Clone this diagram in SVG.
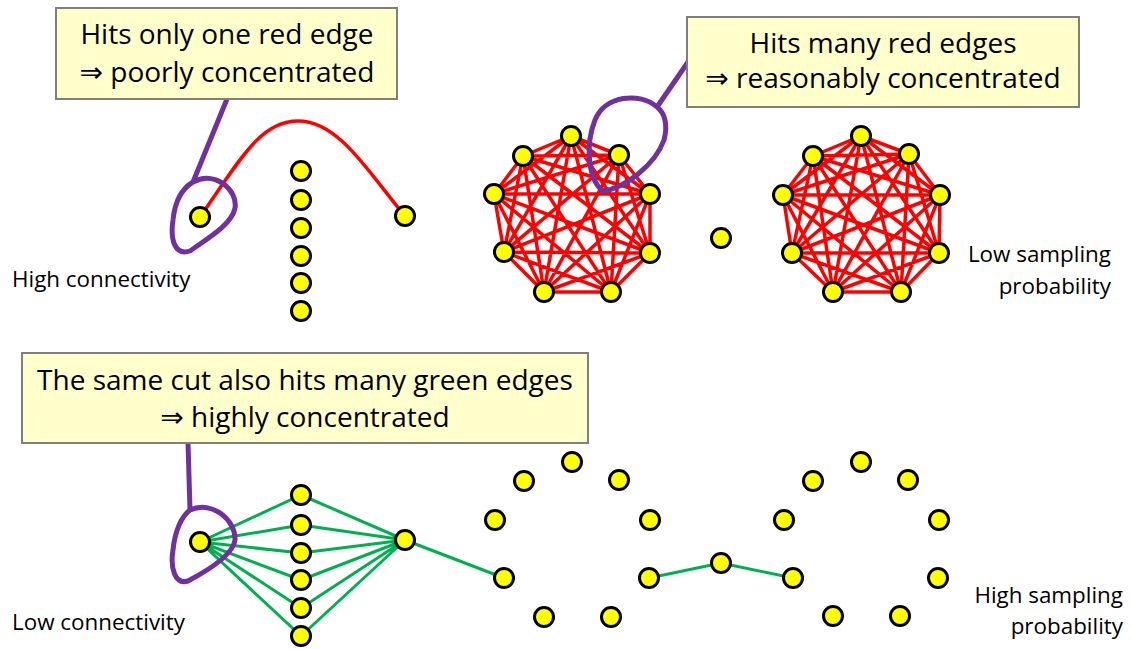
<svg xmlns="http://www.w3.org/2000/svg" width="1131" height="649" viewBox="0 0 1131 649">
<style>
.n{fill:#FFFF00;stroke:#000;stroke-width:3}
.r{stroke:#FF0000;stroke-width:3.5;fill:none}
.g{stroke:#00B050;stroke-width:3;fill:none}
.p{stroke:#7030A0;stroke-width:5;fill:none;stroke-linejoin:round}
.box{fill:#FFFFCC;stroke:#7F7F7F;stroke-width:2}
.t{font-family:"Open Sans",Lato,sans-serif;font-size:28px;fill:#000;text-anchor:middle}
.a{font-family:"DejaVu Sans",sans-serif}
.l{font-family:"Open Sans",Lato,sans-serif;font-size:22.4px;fill:#000}
.lr{font-family:"Open Sans",Lato,sans-serif;font-size:22.4px;fill:#000;text-anchor:end}
</style>
<rect width="1131" height="649" fill="#fff"/>
<g id="connectors">
<path class="r" d="M200,217 C240,160 260,121 298,121 C340,121 370,175 405,216"/>
<g id="clique1-edges">
<path class="r" d="M571,136L619,155M571,136L650,194M571,136L650,253M571,136L611,292M571,136L544,292M571,136L504,252M571,136L494,194M571,136L523,156
M619,155L650,194M619,155L650,253M619,155L611,292M619,155L544,292M619,155L504,252M619,155L494,194M619,155L523,156
M650,194L650,253M650,194L611,292M650,194L544,292M650,194L504,252M650,194L494,194M650,194L523,156
M650,253L611,292M650,253L544,292M650,253L504,252M650,253L494,194M650,253L523,156
M611,292L544,292M611,292L504,252M611,292L494,194M611,292L523,156
M544,292L504,252M544,292L494,194M544,292L523,156
M504,252L494,194M504,252L523,156
M494,194L523,156"/>
</g>
<g id="clique2-edges">
<path class="r" d="M861,136L909,154M861,136L940,195M861,136L939,253M861,136L901,292M861,136L833,292M861,136L792,253M861,136L783,195M861,136L813,156
M909,154L940,195M909,154L939,253M909,154L901,292M909,154L833,292M909,154L792,253M909,154L783,195M909,154L813,156
M940,195L939,253M940,195L901,292M940,195L833,292M940,195L792,253M940,195L783,195M940,195L813,156
M939,253L901,292M939,253L833,292M939,253L792,253M939,253L783,195M939,253L813,156
M901,292L833,292M901,292L792,253M901,292L783,195M901,292L813,156
M833,292L792,253M833,292L783,195M833,292L813,156
M792,253L783,195M792,253L813,156
M783,195L813,156"/>
</g>
<path class="g" d="M200,542L301,495M200,542L301,525M200,542L301,553M200,542L301,580M200,542L301,608M200,542L301,636
M405,540L301,495M405,540L301,525M405,540L301,553M405,540L301,580M405,540L301,608M405,540L301,636
M405,540L504,578M649,578L721,563L793,578"/>
</g>
<g id="cut1">
<path class="p" d="M227,99L193,182 C215,170 238,190 235,208 C232,225 205,240 190,251 C175,256 170,240 173,220 C175,200 183,188 193,182"/>
</g>
<g id="cut2">
<path class="p" d="M688,62L657,107 C640,92 605,95 595,120 C585,145 588,180 603,191 C625,188 655,165 664,140 C668,125 665,113 657,107"/>
</g>
<g id="cut3">
<path class="p" d="M188,443L190,510 C212,500 236,520 235,540 C233,556 205,572 188,581 C175,585 170,568 173,550 C175,530 182,516 190,510"/>
</g>
<g id="callout1">
<rect class="box" x="56" y="8" width="341" height="91"/>
<text class="t" x="227" y="44">Hits only one red edge</text>
<text class="t" x="227" y="82"><tspan class="a">⇒</tspan> poorly concentrated</text>
</g>
<g id="callout2">
<rect class="box" x="687" y="17" width="392" height="90"/>
<text class="t" x="883" y="53">Hits many red edges</text>
<text class="t" x="883" y="88"><tspan class="a">⇒</tspan> reasonably concentrated</text>
</g>
<g id="callout3">
<rect class="box" x="22" y="353" width="566" height="90"/>
<text class="t" x="305" y="390">The same cut also hits many green edges</text>
<text class="t" x="305" y="427"><tspan class="a">⇒</tspan> highly concentrated</text>
</g>
<g id="top-left-nodes">
<circle class="n" cx="200" cy="217" r="9.5"/>
<circle class="n" cx="405" cy="216" r="9.5"/>
<circle class="n" cx="301" cy="171" r="9.5"/>
<circle class="n" cx="301" cy="200" r="9.5"/>
<circle class="n" cx="301" cy="228" r="9.5"/>
<circle class="n" cx="301" cy="256" r="9.5"/>
<circle class="n" cx="301" cy="283" r="9.5"/>
<circle class="n" cx="301" cy="311" r="9.5"/>
</g>
<g id="clique1">
<circle class="n" cx="571" cy="136" r="9.5"/>
<circle class="n" cx="619" cy="155" r="9.5"/>
<circle class="n" cx="650" cy="194" r="9.5"/>
<circle class="n" cx="650" cy="253" r="9.5"/>
<circle class="n" cx="611" cy="292" r="9.5"/>
<circle class="n" cx="544" cy="292" r="9.5"/>
<circle class="n" cx="504" cy="252" r="9.5"/>
<circle class="n" cx="494" cy="194" r="9.5"/>
<circle class="n" cx="523" cy="156" r="9.5"/>
</g>
<g id="isolated-top">
<circle class="n" cx="721" cy="238" r="9.5"/>
</g>
<g id="clique2">
<circle class="n" cx="861" cy="136" r="9.5"/>
<circle class="n" cx="909" cy="154" r="9.5"/>
<circle class="n" cx="940" cy="195" r="9.5"/>
<circle class="n" cx="939" cy="253" r="9.5"/>
<circle class="n" cx="901" cy="292" r="9.5"/>
<circle class="n" cx="833" cy="292" r="9.5"/>
<circle class="n" cx="792" cy="253" r="9.5"/>
<circle class="n" cx="783" cy="195" r="9.5"/>
<circle class="n" cx="813" cy="156" r="9.5"/>
</g>
<g id="bottom-left-nodes">
<circle class="n" cx="200" cy="542" r="9.5"/>
<circle class="n" cx="405" cy="540" r="9.5"/>
<circle class="n" cx="301" cy="495" r="9.5"/>
<circle class="n" cx="301" cy="525" r="9.5"/>
<circle class="n" cx="301" cy="553" r="9.5"/>
<circle class="n" cx="301" cy="580" r="9.5"/>
<circle class="n" cx="301" cy="608" r="9.5"/>
<circle class="n" cx="301" cy="636" r="9.5"/>
</g>
<g id="ring1">
<circle class="n" cx="572" cy="462" r="9.5"/>
<circle class="n" cx="619" cy="480" r="9.5"/>
<circle class="n" cx="650" cy="520" r="9.5"/>
<circle class="n" cx="649" cy="578" r="9.5"/>
<circle class="n" cx="611" cy="617" r="9.5"/>
<circle class="n" cx="544" cy="617" r="9.5"/>
<circle class="n" cx="504" cy="578" r="9.5"/>
<circle class="n" cx="495" cy="520" r="9.5"/>
<circle class="n" cx="524" cy="481" r="9.5"/>
</g>
<g id="bridge-node">
<circle class="n" cx="721" cy="563" r="9.5"/>
</g>
<g id="ring2">
<circle class="n" cx="861" cy="462" r="9.5"/>
<circle class="n" cx="908" cy="480" r="9.5"/>
<circle class="n" cx="939" cy="520" r="9.5"/>
<circle class="n" cx="938" cy="578" r="9.5"/>
<circle class="n" cx="900" cy="616" r="9.5"/>
<circle class="n" cx="833" cy="616" r="9.5"/>
<circle class="n" cx="793" cy="578" r="9.5"/>
<circle class="n" cx="784" cy="520" r="9.5"/>
<circle class="n" cx="813" cy="481" r="9.5"/>
</g>
<g id="labels">
<text class="l" x="12" y="287">High connectivity</text>
<text class="l" x="12" y="630">Low connectivity</text>
<text class="lr" x="1111" y="262">Low sampling</text>
<text class="lr" x="1111" y="294">probability</text>
<text class="lr" x="1123" y="603">High sampling</text>
<text class="lr" x="1123" y="634">probability</text>
</g>
</svg>
